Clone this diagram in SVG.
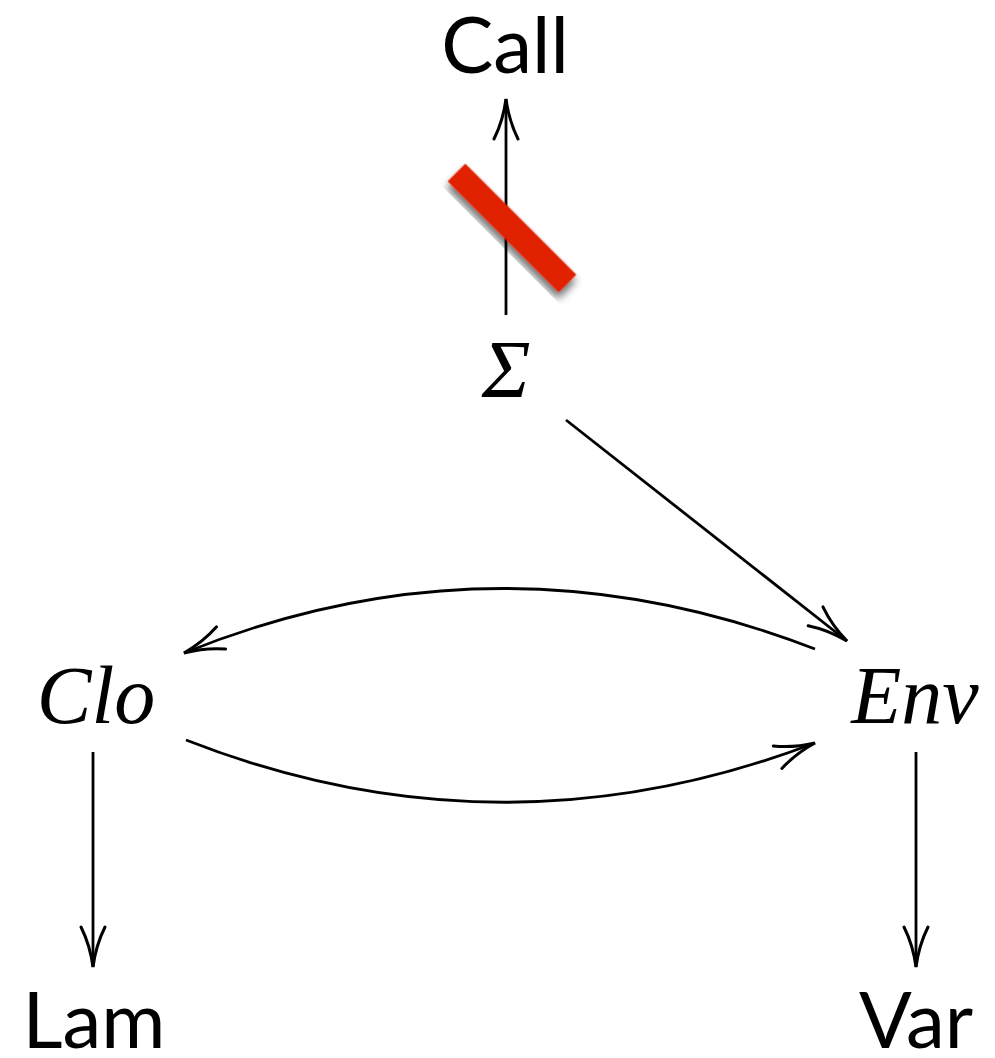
<svg xmlns="http://www.w3.org/2000/svg" width="995" height="1058" viewBox="0 0 995 1058">
<defs>
<marker id="to" markerUnits="userSpaceOnUse" markerWidth="60" markerHeight="40" viewBox="-50 -20 60 40" refX="0" refY="0" orient="auto" overflow="visible">
<path d="M -40,-12 C -26,-5 -9,-1.2 0,0 C -9,1.2 -26,5 -40,12" fill="none" stroke="#000" stroke-width="3" stroke-linecap="round"/>
</marker>
<filter id="shadow" x="-30%" y="-30%" width="160%" height="160%">
<feGaussianBlur in="SourceAlpha" stdDeviation="4"/>
<feOffset dx="4" dy="5" result="b"/>
<feComponentTransfer><feFuncA type="linear" slope="0.6"/></feComponentTransfer>
<feMerge><feMergeNode/><feMergeNode in="SourceGraphic"/></feMerge>
</filter>
</defs>
<style>
.sans{font-family:Lato,"Open Sans","DejaVu Sans",sans-serif;font-size:78px;fill:#000;text-anchor:middle}
.math{font-family:"Liberation Serif","DejaVu Serif",serif;font-style:italic;font-size:82px;fill:#000;text-anchor:middle}
.edge{fill:none;stroke:#000;stroke-width:2.8;marker-end:url(#to)}
</style>
<rect width="995" height="1058" fill="#fff"/>
<g id="connectors">
<path class="edge" d="M 506,315 L 506,99"/>
<path class="edge" d="M 566,420 L 847,641"/>
<path class="edge" d="M 815,649 Q 497,526 184,653"/>
<path class="edge" d="M 186,740 Q 500,863 815,743"/>
<path class="edge" d="M 93,752 L 93,967"/>
<path class="edge" d="M 916,752 L 916,967"/>
</g>
<g id="block">
<rect x="433.5" y="215.5" width="157" height="25" fill="#e02200" transform="rotate(45 512 228)" filter="url(#shadow)"/>
</g>
<g id="Call"><text class="sans" x="505" y="73">Call</text></g>
<g id="Sigma"><text class="math" x="506" y="397">Σ</text></g>
<g id="Clo"><text class="math" x="96" y="723">Clo</text></g>
<g id="Env"><text class="math" x="915" y="723">Env</text></g>
<g id="Lam"><text class="sans" x="94" y="1048">Lam</text></g>
<g id="Var"><text class="sans" x="916" y="1048">Var</text></g>
</svg>
